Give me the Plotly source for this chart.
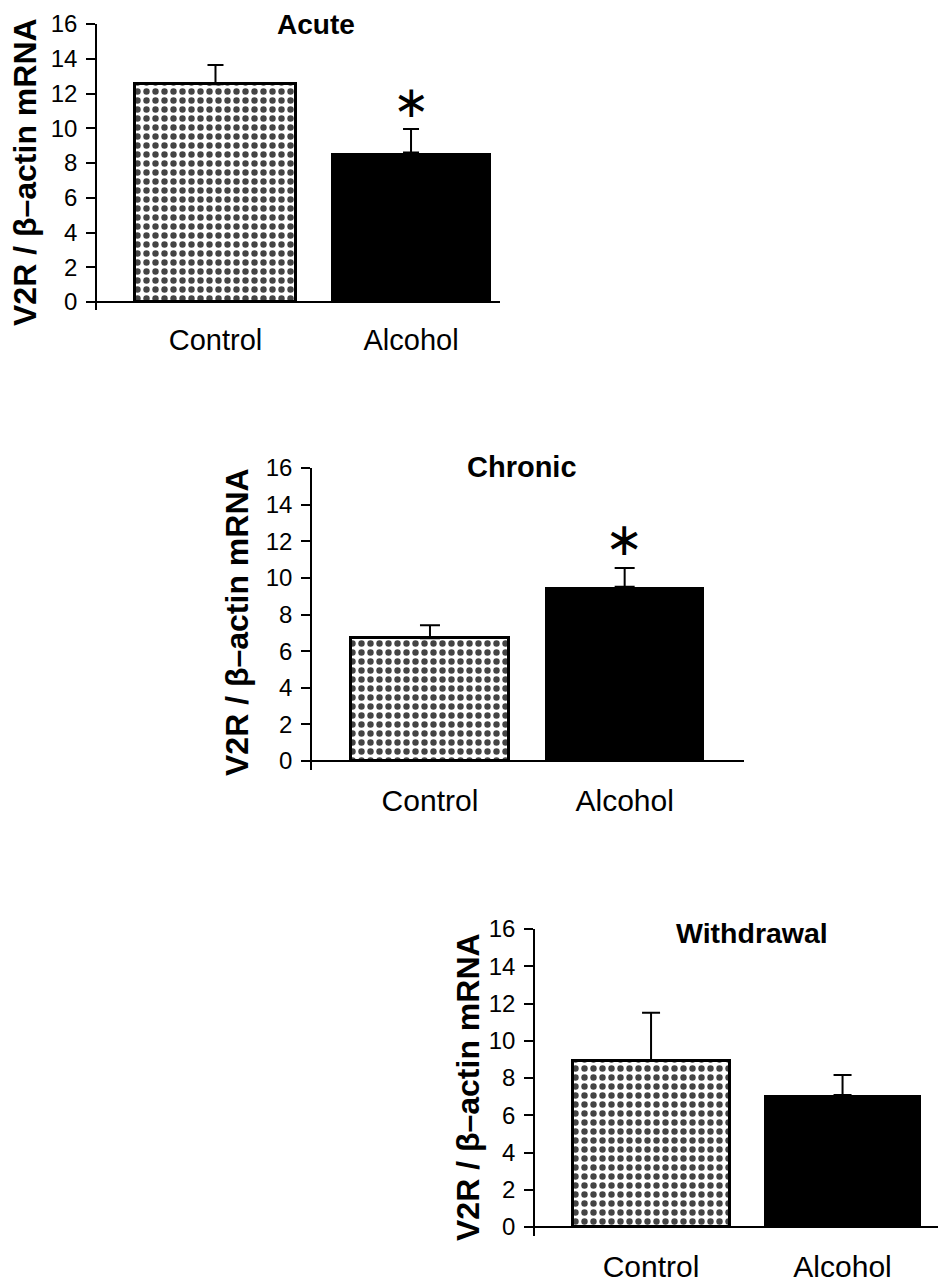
import plotly.graph_objects as go

# ---------------- data ----------------
categories = ["Control", "Alcohol"]
panel_titles = ["Acute", "Chronic", "Withdrawal"]
acute_mean = [12.53, 8.60]
acute_sem = [1.11, 1.35]
chronic_mean = [6.71, 9.52]
chronic_sem = [0.70, 1.02]
withdrawal_mean = [8.91, 7.09]
withdrawal_sem = [2.60, 1.07]
acute_sig = [False, True]
chronic_sig = [False, True]
withdrawal_sig = [False, False]
y_tick_vals = [0, 2, 4, 6, 8, 10, 12, 14, 16]
y_title = "V2R / β–actin mRNA"

W, H = 946, 1284
PAGE_OFF = 8  # browser body margin


def px_x(p):
    return (p - PAGE_OFF) / W


def px_y(p):
    return 1 - (p - PAGE_OFF) / H


# layout per panel (pixel geometry of the reference)
panels = [
    dict(title=panel_titles[0], mean=acute_mean, sem=acute_sem, sig=acute_sig,
         x0=97, x1=500, ytop=24, ybot=310, ymin=-0.46, xr=[-0.606, 1.455], bw=0.82,
         capw=8, tfs=28, tcx=316, tcy=24, lfs=32, lcx=25, lcy=172,
         tickfs=24, catfs=29, astfs=44),
    dict(title=panel_titles[1], mean=chronic_mean, sem=chronic_sem, sig=chronic_sig,
         x0=312, x1=744, ytop=468, ybot=770, ymin=-0.49, xr=[-0.606, 1.613], bw=0.815,
         capw=10, tfs=29, tcx=522, tcy=467, lfs=32, lcx=237, lcy=622,
         tickfs=24, catfs=30, astfs=46),
    dict(title=panel_titles[2], mean=withdrawal_mean, sem=withdrawal_sem, sig=withdrawal_sig,
         x0=535, x1=954, ytop=929, ybot=1236, ymin=-0.48, xr=[-0.606, 1.582], bw=0.82,
         capw=9, tfs=28.5, tcx=752, tcy=933, lfs=32, lcx=468, lcy=1087,
         tickfs=24, catfs=30, astfs=46),
]

FONT = "Liberation Sans, Arial, sans-serif"

fig = go.Figure()
annotations = []
for i, p in enumerate(panels):
    n = "" if i == 0 else str(i + 1)
    xs = list(range(len(categories)))
    fig.add_trace(go.Bar(
        x=xs, y=p["mean"], width=p["bw"],
        xaxis="x" + n, yaxis="y" + n,
        marker=dict(
            color=["white", "black"],
            line=dict(color="black", width=[3, 0]),
            pattern=dict(shape=[".", ""], fgcolor="black",
                         fgopacity=1, fillmode="overlay",
                         size=9, solidity=0.4),
        ),
        error_y=dict(type="data", symmetric=False, array=p["sem"],
                     arrayminus=[0] * len(p["sem"]), color="black",
                     thickness=2, width=p["capw"]),
        showlegend=False, hoverinfo="skip",
    ))
    fig.layout["xaxis" + n] = dict(
        domain=[px_x(p["x0"]), min(1.0, px_x(p["x1"]))], anchor="y" + n,
        range=p["xr"], showline=False, showgrid=False, zeroline=False,
        tickvals=xs, ticktext=categories, ticks="", automargin=False,
        tickfont=dict(family=FONT, size=p["catfs"], color="black"),
        ticklabelstandoff=10, fixedrange=True,
    )
    fig.layout["yaxis" + n] = dict(
        domain=[px_y(p["ybot"]), px_y(p["ytop"])], anchor="x" + n,
        range=[p["ymin"], 16], showline=True, linecolor="black", linewidth=1.5,
        showgrid=False, zeroline=True, zerolinecolor="black", zerolinewidth=1.5,
        tickvals=y_tick_vals, ticktext=[str(v) for v in y_tick_vals],
        ticks="outside", ticklen=9, tickwidth=1.5, tickcolor="black",
        tickfont=dict(family=FONT, size=p["tickfs"], color="black"),
        ticklabelstandoff=4, fixedrange=True, automargin=False,
    )
    annotations.append(dict(
        text="<b>" + p["title"] + "</b>", xref="paper", yref="paper",
        x=px_x(p["tcx"]), y=px_y(p["tcy"]), xanchor="center", yanchor="middle",
        showarrow=False, font=dict(family=FONT, size=p["tfs"], color="black"),
    ))
    annotations.append(dict(
        text="<b>" + y_title + "</b>", xref="paper", yref="paper", textangle=-90,
        x=px_x(p["lcx"]), y=px_y(p["lcy"]), xanchor="center", yanchor="middle",
        showarrow=False, font=dict(family=FONT, size=p["lfs"], color="black"),
    ))
    for j, s in enumerate(p["sig"]):
        if s:
            annotations.append(dict(
                text="∗", xref="x" + n, yref="y" + n,
                x=xs[j], y=p["mean"][j] + p["sem"][j],
                xanchor="center", yanchor="bottom", yshift=0,
                showarrow=False,
                font=dict(family="DejaVu Sans", size=p["astfs"], color="black"),
            ))

fig.update_layout(
    width=W, height=H, margin=dict(l=0, r=0, t=0, b=0, autoexpand=False),
    paper_bgcolor="white", plot_bgcolor="white",
    annotations=annotations, bargap=0, showlegend=False,
)
fig.write_html("out.html")
